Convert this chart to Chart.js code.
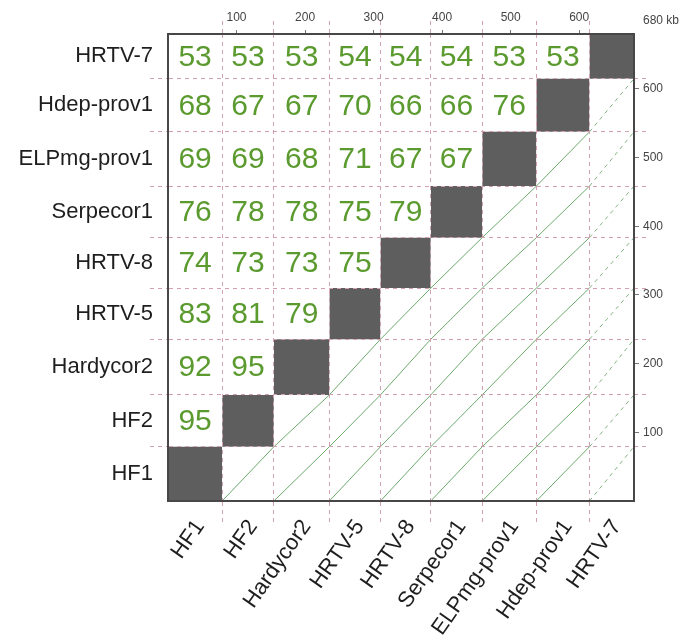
<!DOCTYPE html>
<html>
<head>
<meta charset="utf-8">
<script src="https://cdn.jsdelivr.net/npm/chart.js@4.4.1/dist/chart.umd.min.js"></script>
<style>
  html, body { margin: 0; padding: 0; background: #fff; }
  #wrap { width: 681px; height: 639px; }
</style>
</head>
<body>
<div id="wrap"><canvas id="dotplot" width="681" height="639"></canvas></div>
<script>
// ============================================================
// Genome dot plot data
// ============================================================

// genomes in plot order (bottom-left to top-right)
const genomes = ['HF1', 'HF2', 'Hardycor2', 'HRTV-5', 'HRTV-8', 'Serpecor1', 'ELPmg-prov1', 'Hdep-prov1', 'HRTV-7'];
// genome lengths in kb
const genomeKb = [79, 75.5, 81, 74.5, 73.5, 75, 79, 77.5, 65];
const kbTicks = [100, 200, 300, 400, 500, 600];
const totalKb = 680;

// pairwise identity (%), one row per genome, cells left of the diagonal
const idHF2 = [95];
const idHardycor2 = [92, 95];
const idHRTV5 = [83, 81, 79];
const idHRTV8 = [74, 73, 73, 75];
const idSerpecor1 = [76, 78, 78, 75, 79];
const idELPmg = [69, 69, 68, 71, 67, 67];
const idHdep = [68, 67, 67, 70, 66, 66, 76];
const idHRTV7 = [53, 53, 53, 54, 54, 54, 53, 53];
const identityRows = [[], idHF2, idHardycor2, idHRTV5, idHRTV8, idSerpecor1, idELPmg, idHdep, idHRTV7];

// ============================================================
// Derived positions (all in kb, mapped through the scales)
// ============================================================
const starts = [];
genomeKb.reduce((acc, len) => { starts.push(acc); return acc + len; }, 0);
const ends = starts.map((s, i) => s + genomeKb[i]);
const centers = starts.map((s, i) => s + genomeKb[i] / 2);
const inner = starts.slice(1);
const axisTicks = inner.concat(centers).sort((a, b) => a - b);

const PINK = '#d3a0b2';
const FRAME = '#474747';
const labelFont = '"Liberation Sans", Arial, sans-serif';

const isBoundary = v => inner.includes(v);
const nameAt = v => { const i = centers.indexOf(v); return i < 0 ? '' : genomes[i]; };
const gridColor = ctx => (ctx.tick && isBoundary(ctx.tick.value)) ? PINK : 'rgba(0,0,0,0)';

// dark squares on the diagonal
const squareSets = genomes.map((g, i) => ({
  data: [{ x: starts[i], y: ends[i] }, { x: ends[i], y: ends[i] }],
  fill: { value: starts[i] },
  backgroundColor: '#5e5e5e',
  borderWidth: 0,
  pointRadius: 0,
  showLine: true,
}));

// alignment lines right of the diagonal
const lineSets = [];
for (let i = 0; i < genomes.length; i++) {
  for (let j = 0; j < i; j++) {
    const weak = i === genomes.length - 1;
    lineSets.push({
      data: [{ x: starts[i], y: starts[j] }, { x: ends[i], y: ends[j] }],
      borderColor: weak ? 'rgba(100,160,100,0.8)' : 'rgba(92,160,92,0.9)',
      borderWidth: 1,
      borderDash: weak ? [4, 4] : [],
      pointRadius: 0,
      showLine: true,
      fill: false,
    });
  }
}

// identity numbers in the upper-left cells
const identityLabels = {
  id: 'identityLabels',
  afterDatasetsDraw(chart) {
    const { ctx, scales: { x, y }, chartArea } = chart;
    ctx.save();
    ctx.font = '30px ' + labelFont;
    ctx.fillStyle = '#5a9a2e';
    ctx.textAlign = 'center';
    ctx.textBaseline = 'middle';
    identityRows.forEach((row, j) => {
      row.forEach((val, i) => {
        ctx.fillText(String(val), x.getPixelForValue(centers[i]), y.getPixelForValue(centers[j]) + 1);
      });
    });
    // axis end label
    ctx.font = '12px ' + labelFont;
    ctx.fillStyle = '#444';
    ctx.textAlign = 'left';
    ctx.fillText(totalKb + ' kb', chartArea.right + 9, 21);
    ctx.restore();
  }
};

const setTicks = values => s => { s.ticks = values.map(v => ({ value: v })); };

new Chart(document.getElementById('dotplot'), {
  type: 'scatter',
  data: { datasets: squareSets.concat(lineSets) },
  options: {
    responsive: false,
    animation: false,
    devicePixelRatio: 1,
    layout: { padding: 0 },
    plugins: { legend: { display: false }, tooltip: { enabled: false } },
    scales: {
      x: {
        type: 'linear', position: 'bottom', min: 0, max: totalKb,
        afterBuildTicks: setTicks(axisTicks),
        afterFit: s => { s.height = 138; },
        ticks: {
          autoSkip: false, minRotation: 55, maxRotation: 55, padding: -8, labelOffset: 5,
          color: '#1e1e1e', font: { size: 22, family: labelFont },
          callback: v => nameAt(v),
        },
        grid: { z: 1, color: gridColor, tickColor: gridColor, lineWidth: 1, tickLength: 22, tickBorderDash: [4, 4] },
        border: { display: true, color: FRAME, width: 2, dash: [4, 4], z: 2 },
      },
      y: {
        type: 'linear', position: 'left', min: 0, max: totalKb,
        afterBuildTicks: setTicks(axisTicks),
        afterFit: s => { s.width = 168; },
        ticks: {
          autoSkip: false, padding: -3,
          color: '#1e1e1e', font: { size: 22, family: labelFont },
          callback: v => nameAt(v),
        },
        grid: { z: 1, color: gridColor, tickColor: gridColor, lineWidth: 1, tickLength: 18, tickBorderDash: [4, 4] },
        border: { display: true, color: FRAME, width: 2, dash: [4, 4], z: 2 },
      },
      xTop: {
        type: 'linear', position: 'top', weight: 0, min: 0, max: totalKb,
        afterBuildTicks: setTicks(inner),
        afterFit: s => { s.height = 0; },
        ticks: { display: false },
        grid: { drawOnChartArea: false, tickColor: PINK, tickLength: 13, tickBorderDash: [4, 4] },
        border: { display: false },
      },
      x2: {
        type: 'linear', position: 'top', weight: 1, min: 0, max: totalKb,
        afterBuildTicks: setTicks(kbTicks),
        afterFit: s => { s.height = 34; },
        ticks: { autoSkip: false, padding: 5, color: '#444', font: { size: 12, family: labelFont } },
        grid: { drawOnChartArea: false, tickColor: '#777', tickLength: 4 },
        border: { display: true, color: FRAME, width: 2, z: 2 },
      },
      yRight: {
        type: 'linear', position: 'right', weight: 0, min: 0, max: totalKb,
        afterBuildTicks: setTicks(inner),
        afterFit: s => { s.width = 0; },
        ticks: { display: false },
        grid: { drawOnChartArea: false, tickColor: PINK, tickLength: 12, tickBorderDash: [4, 4] },
        border: { display: false },
      },
      y2: {
        type: 'linear', position: 'right', weight: 1, min: 0, max: totalKb,
        afterBuildTicks: setTicks(kbTicks),
        afterFit: s => { s.width = 47; },
        ticks: { autoSkip: false, padding: 4, color: '#444', font: { size: 12, family: labelFont } },
        grid: { drawOnChartArea: false, tickColor: '#777', tickLength: 5 },
        border: { display: true, color: FRAME, width: 2, z: 2 },
      },
    },
  },
  plugins: [identityLabels],
});
</script>
</body>
</html>
